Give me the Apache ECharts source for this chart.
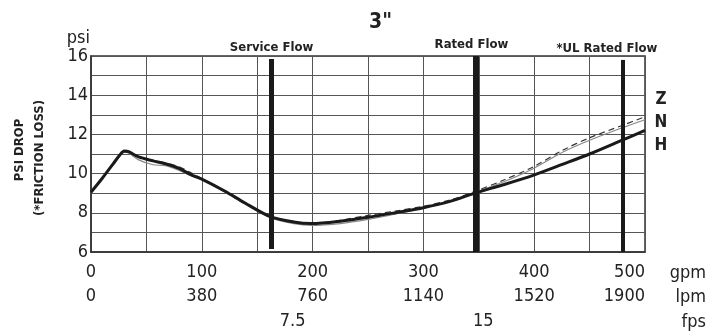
<!DOCTYPE html>
<html><head><meta charset="utf-8">
<script src="https://cdn.jsdelivr.net/npm/echarts@6/dist/echarts.min.js"></script>
<style>html,body{margin:0;padding:0;background:#fff}#c{width:708px;height:332px}</style>
</head><body><div id="c"></div>
<script>
var gpm = [0,10,20,26,30,34,43,56,67,80,90,100,121,139,162,183,199,225,250,276,300,324,347,372,399,426,450,480,500];
var seriesH = [9.05,9.75,10.5,10.95,11.15,11.12,10.85,10.65,10.5,10.25,9.95,9.72,9.1,8.5,7.8,7.53,7.45,7.57,7.77,8.02,8.26,8.58,9.02,9.43,9.91,10.48,11.0,11.72,12.2];
var seriesN = [9.05,9.72,10.45,10.9,11.1,11.05,10.7,10.45,10.4,10.15,9.9,9.7,9.05,8.45,7.75,7.45,7.36,7.45,7.66,7.95,8.25,8.6,9.05,9.57,10.25,11.1,11.7,12.35,12.75];
var seriesZ = [9.05,9.75,10.5,10.95,11.12,11.1,10.85,10.68,10.55,10.34,10.05,9.75,9.1,8.5,7.8,7.5,7.45,7.62,7.87,8.1,8.33,8.65,9.1,9.66,10.34,11.2,11.83,12.47,12.9];
var seriesNames = ['Z','N','H'];
var flowNames = ['Service Flow','Rated Flow','*UL Rated Flow'];
var flowGpm = [163,347,480];
var fpsLabels = ['7.5','15'];
var fpsAtGpm = [182,354];
var unitLabels = ['gpm','lpm','fps'];

var FONT = "'Liberation Sans Narrow','DejaVu Sans Condensed','Arial Narrow',sans-serif";
function pts(ys){return gpm.map(function(x,i){return [x,ys[i]];});}

var flowWidths=[5,6,4];
var flowPad=[[0,0,0,0],[0,8,0,0],[0,32,0,0]];
var flowRange=[[6.15,15.85],[6,16],[6,15.8]];
var markData = flowGpm.map(function(g,i){
  return [{coord:[g,flowRange[i][0]],name:flowNames[i],lineStyle:{width:flowWidths[i]},
           label:{padding:flowPad[i]}},
          {coord:[g,flowRange[i][1]]}];
});

var chart = echarts.init(document.getElementById('c'));
chart.setOption({
  animation:false,
  backgroundColor:'#fff',
  title:{text:'3"',left:364,top:7,textStyle:{fontFamily:FONT,fontSize:21,fontWeight:'bold',color:'#222'}},
  grid:{left:91,right:63,top:56,bottom:80,show:true,borderColor:'#333',borderWidth:1.5,backgroundColor:'transparent'},
  xAxis:[
    {type:'value',min:0,max:500,interval:50,position:'bottom',
     axisLine:{show:true,lineStyle:{color:'#333',width:1.5}},axisTick:{show:false},
     splitLine:{show:true,lineStyle:{color:'#555',width:1}},
     axisLabel:{margin:11,alignMaxLabel:'right',fontFamily:FONT,fontSize:18,color:'#222',
       formatter:function(v){return v%100===0?String(v):'';}}},
    {type:'value',min:0,max:1900,interval:380,position:'bottom',
     axisLine:{show:false},axisTick:{show:false},splitLine:{show:false},
     axisLabel:{margin:35,alignMaxLabel:'right',fontFamily:FONT,fontSize:18,color:'#222',
       formatter:function(v){return String(v);}}},
    {type:'value',min:0,max:500,position:'bottom',
     axisLine:{show:false},axisTick:{show:false},splitLine:{show:false},
     axisLabel:{margin:60,customValues:fpsAtGpm,fontFamily:FONT,fontSize:18,color:'#222',
       formatter:function(v){var i=fpsAtGpm.indexOf(v);return i>=0?fpsLabels[i]:'';}}}
  ],
  yAxis:{type:'value',min:6,max:16,interval:1,name:'psi',nameLocation:'end',nameGap:6,
    nameTextStyle:{fontFamily:FONT,fontSize:18,color:'#222',align:'right',padding:[0,1,0,0]},
    axisLine:{show:true,lineStyle:{color:'#333',width:1.5}},axisTick:{show:false},
    splitLine:{show:true,lineStyle:{color:'#555',width:1}},
    axisLabel:{margin:3,fontFamily:FONT,fontSize:18,color:'#222',
      formatter:function(v){return v%2===0?String(v):'';}}},
  series:[
    {name:seriesNames[0],type:'line',data:pts(seriesZ),symbol:'none',smooth:0.3,
     lineStyle:{color:'#333',width:1.2,type:[6,4]},z:3},
    {name:seriesNames[1],type:'line',data:pts(seriesN),symbol:'none',smooth:0.3,
     lineStyle:{color:'#888',width:1.2},z:2},
    {name:seriesNames[2],type:'line',data:pts(seriesH),symbol:'none',smooth:0.3,
     lineStyle:{color:'#1a1a1a',width:3},z:4,
     markLine:{silent:true,symbol:['none','none'],animation:false,
       lineStyle:{color:'#1a1a1a',type:'solid'},
       label:{show:true,position:'end',distance:5,formatter:'{b}',fontFamily:FONT,fontSize:13,fontWeight:'bold',color:'#222'},
       data:markData}}
  ],
  graphic:[
    {type:'text',x:661,y:100,style:{text:seriesNames[0],font:'bold 17px '+FONT,fill:'#222',align:'center',verticalAlign:'middle'}},
    {type:'text',x:661,y:123,style:{text:seriesNames[1],font:'bold 17px '+FONT,fill:'#222',align:'center',verticalAlign:'middle'}},
    {type:'text',x:661,y:146,style:{text:seriesNames[2],font:'bold 17px '+FONT,fill:'#222',align:'center',verticalAlign:'middle'}},
    {type:'text',x:706,y:273,style:{text:unitLabels[0],font:'18px '+FONT,fill:'#222',align:'right',verticalAlign:'middle'}},
    {type:'text',x:706,y:297,style:{text:unitLabels[1],font:'18px '+FONT,fill:'#222',align:'right',verticalAlign:'middle'}},
    {type:'text',x:706,y:322,style:{text:unitLabels[2],font:'18px '+FONT,fill:'#222',align:'right',verticalAlign:'middle'}},
    {type:'text',x:20,y:150,rotation:Math.PI/2,style:{text:'PSI DROP',font:'bold 13px '+FONT,fill:'#222',align:'center',verticalAlign:'middle'}},
    {type:'text',x:40,y:158,rotation:Math.PI/2,style:{text:'(*FRICTION LOSS)',font:'bold 13px '+FONT,fill:'#222',align:'center',verticalAlign:'middle'}}
  ]
});
</script></body></html>
